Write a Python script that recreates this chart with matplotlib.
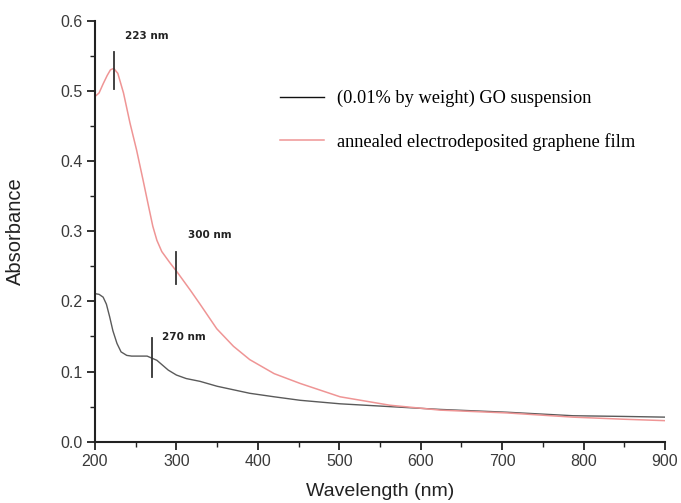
import matplotlib
matplotlib.use("Agg")
import matplotlib.pyplot as plt
from matplotlib.ticker import MultipleLocator, FormatStrFormatter

# data
wl_go = [200, 205, 210, 214, 218, 222, 227, 232, 239, 245, 252, 258, 264, 270, 276, 283, 290, 300, 312,
         329, 350, 370, 390, 420, 452, 501, 562, 624, 706, 787, 850, 900]
abs_go = [0.211, 0.210, 0.206, 0.196, 0.178, 0.158, 0.140, 0.128, 0.123, 0.122, 0.122, 0.122, 0.122, 0.119,
          0.116, 0.109, 0.102, 0.095, 0.090, 0.086, 0.079, 0.074, 0.069, 0.064, 0.059, 0.054, 0.050, 0.046,
          0.042, 0.037, 0.036, 0.035]

wl_film = [200, 205, 210, 215, 219, 223, 228, 235, 243, 251, 259, 265.5, 271, 276, 282, 292, 302, 317,
           329, 349.5, 370, 390, 420, 452, 501, 562, 624, 706, 787, 850, 900]
abs_film = [0.492, 0.497, 0.510, 0.522, 0.530, 0.532, 0.525, 0.497, 0.454, 0.416, 0.373, 0.337, 0.307,
            0.287, 0.271, 0.255, 0.240, 0.216, 0.196, 0.161, 0.136, 0.117, 0.097, 0.083, 0.064, 0.052,
            0.045, 0.041, 0.035, 0.032, 0.030]

peak_wl = [223, 300, 270]
peak_abs = [0.529, 0.248, 0.120]
peak_half = [0.026, 0.023, 0.028]
peak_labels = ["223 nm", "300 nm", "270 nm"]
label_pos = [(237, 0.578), (314, 0.295), (282, 0.149)]

series_labels = ["(0.01% by weight) GO suspension", "annealed electrodeposited graphene film"]

W, H = 681, 503
fig = plt.figure(figsize=(W / 100, H / 100), dpi=100)
ax = fig.add_axes([95 / W, 1 - 441.7 / H, (665 - 95) / W, (441.7 - 20.7) / H])

l1, = ax.plot(wl_go, abs_go, color="#5a5a5a", lw=1.0, label=series_labels[0])
l2, = ax.plot(wl_film, abs_film, color="#ef9595", lw=1.1, label=series_labels[1])

for w, a, h, t, (tx, ty) in zip(peak_wl, peak_abs, peak_half, peak_labels, label_pos):
    ax.plot([w, w], [a - h, a + h], color="#333333", lw=1.3)
    ax.text(tx, ty, t, fontsize=7.5, fontweight="bold", color="#222222", va="center", ha="left")

ax.set_xlim(200, 900)
ax.set_ylim(0, 0.6)
ax.xaxis.set_major_locator(MultipleLocator(100))
ax.xaxis.set_minor_locator(MultipleLocator(50))
ax.yaxis.set_major_locator(MultipleLocator(0.1))
ax.yaxis.set_minor_locator(MultipleLocator(0.05))
ax.yaxis.set_major_formatter(FormatStrFormatter("%.1f"))
for s in ["top", "right"]:
    ax.spines[s].set_visible(False)
for s in ["left", "bottom"]:
    ax.spines[s].set_linewidth(1.5)
    ax.spines[s].set_color("#222222")
ax.tick_params(which="major", direction="out", length=6, width=1.3, color="#222222",
               labelsize=11.5, labelcolor="#3a3a3a", pad=3)
ax.tick_params(which="minor", direction="out", length=3.5, width=1.0, color="#222222")
for lab in ax.get_xticklabels() + ax.get_yticklabels():
    lab.set_family("Liberation Sans")

ax.set_xlabel("Wavelength (nm)", fontsize=14, family="Liberation Sans", color="#222222")
ax.set_ylabel("Absorbance", fontsize=14.5, family="Liberation Sans", color="#222222")
ax.xaxis.set_label_coords(0.5, -0.098)
ax.yaxis.set_label_coords(-0.123, 0.5)

leg = fig.legend(handles=[l1, l2], loc="upper left", bbox_to_anchor=(280 / W, 1 - 90 / H),
                 frameon=False, handlelength=2.4, handletextpad=0.7, labelspacing=1.4,
                 borderpad=0, borderaxespad=0,
                 prop={"family": "Liberation Serif", "size": 13.2})
leg.legend_handles[0].set_color("#111111")

fig.savefig("out.png", dpi=100)
